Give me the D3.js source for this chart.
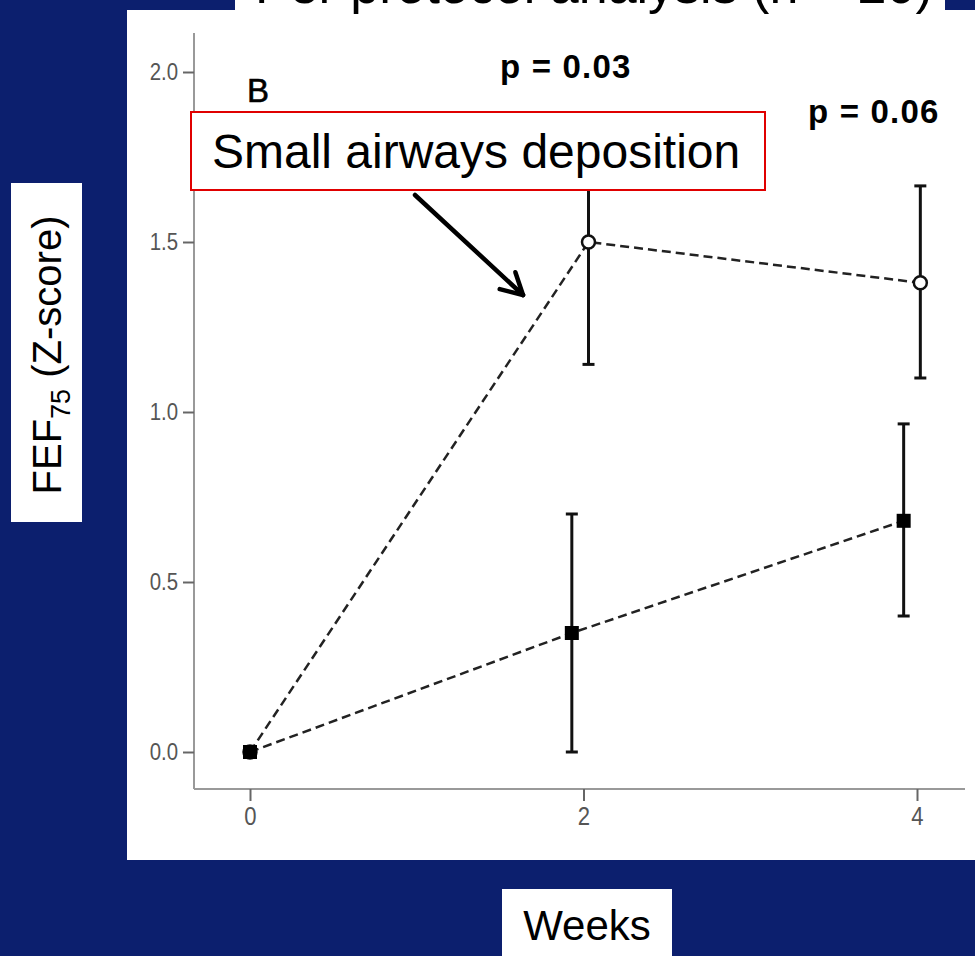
<!DOCTYPE html>
<html>
<head>
<meta charset="utf-8">
<script src="https://cdnjs.cloudflare.com/ajax/libs/d3/7.8.5/d3.min.js"></script>
<style>
  body { margin: 0; background: #0c1f6e; }
  svg { display: block; }
  text { font-family: "Liberation Sans", Arial, sans-serif; }
</style>
</head>
<body>
<div id="chart"></div>
<script>
// tick labels
var weekTicks = [0, 2, 4];
var zTicks = [0, 0.5, 1.0, 1.5, 2.0];

// filled squares
var squareWeeks = [0, 1.93, 3.92];
var squareMean = [0, 0.35, 0.68];
var squareLow = [0, 0.0, 0.40];
var squareHigh = [0, 0.70, 0.965];

// open circles (small airways deposition)
var circleWeeks = [0, 2.03, 4.02];
var circleMean = [0, 1.50, 1.38];
var circleLow = [0, 1.14, 1.10];
var circleHigh = [0, 1.86, 1.665];

var pValues = ["p = 0.03", "p = 0.06"];

var width = 975,
    height = 956;
var navy = '#0c1f6e';

var svg = d3.select('#chart')
  .append('svg')
  .attr('width', width)
  .attr('height', height);

svg.append('rect')
  .attr('width', width)
  .attr('height', height)
  .attr('fill', navy);

// white panel (pasted SPSS chart) + the title box above it
svg.append('rect')
  .attr('x', 127).attr('y', 10)
  .attr('width', width - 127).attr('height', 850)
  .attr('fill', '#fff');
svg.append('rect')
  .attr('x', 235).attr('y', 0)
  .attr('width', 710).attr('height', 12)
  .attr('fill', '#fff');

// title, mostly cut off at the top of the slide
svg.append('text')
  .attr('x', 255)
  .attr('y', 3)
  .attr('font-size', 52)
  .attr('fill', '#000')
  .text('Per protocol analysis (n = 20)');

var x = d3.scaleLinear().domain([0, 4]).range([250, 917]);
var y = d3.scaleLinear().domain([0, 2]).range([752, 72]);

var axisLeft = 194, axisBottom = 789;

// axis lines
svg.append('line')
  .attr('x1', axisLeft).attr('x2', axisLeft)
  .attr('y1', 33).attr('y2', axisBottom)
  .attr('stroke', '#999').attr('stroke-width', 2);
svg.append('line')
  .attr('x1', axisLeft).attr('x2', 965)
  .attr('y1', axisBottom).attr('y2', axisBottom)
  .attr('stroke', '#999').attr('stroke-width', 2);

var yAxis = svg.append('g')
  .attr('transform', 'translate(' + axisLeft + ',0)')
  .call(d3.axisLeft(y).tickValues(zTicks).tickFormat(d3.format('.1f')).tickSize(11).tickPadding(4));
var xAxis = svg.append('g')
  .attr('transform', 'translate(0,' + axisBottom + ')')
  .call(d3.axisBottom(x).tickValues(weekTicks).tickFormat(d3.format('d')).tickSize(12).tickPadding(6));

// SPSS tick labels are a narrow face: squeeze them horizontally
var squeeze = 0.85;
[yAxis, xAxis].forEach(function(g) {
  g.select('.domain').remove();
  g.selectAll('.tick line').attr('stroke', '#666').attr('stroke-width', 2);
  g.selectAll('.tick text')
    .attr('fill', '#555')
    .style('font-family', '"Liberation Sans", Arial, sans-serif')
    .style('font-size', '24px')
    .attr('transform', 'scale(' + squeeze + ',1)');
});
yAxis.selectAll('.tick text').attr('x', -16 / squeeze);
xAxis.selectAll('.tick text').style('font-size', '26px');

function toPoints(weeks, mean, low, high) {
  return weeks.map(function(w, i) {
    return { week: w, mean: mean[i], low: low[i], high: high[i] };
  });
}
var squares = toPoints(squareWeeks, squareMean, squareLow, squareHigh);
var circles = toPoints(circleWeeks, circleMean, circleLow, circleHigh);

var line = d3.line()
  .x(function(d) { return x(d.week); })
  .y(function(d) { return y(d.mean); });

[circles, squares].forEach(function(pts) {
  svg.append('path')
    .datum(pts)
    .attr('d', line)
    .attr('fill', 'none')
    .attr('stroke', '#222')
    .attr('stroke-width', 2.5)
    .attr('stroke-dasharray', '9,5');

  var bars = svg.append('g').selectAll('g')
    .data(pts.filter(function(d) { return d.high > d.low; }))
    .enter().append('g')
    .attr('stroke', '#111')
    .attr('stroke-width', 3);
  bars.append('line')
    .attr('x1', function(d) { return x(d.week); })
    .attr('x2', function(d) { return x(d.week); })
    .attr('y1', function(d) { return y(d.low); })
    .attr('y2', function(d) { return y(d.high); });
  bars.selectAll('.cap')
    .data(function(d) { return [[d.week, d.low], [d.week, d.high]]; })
    .enter().append('line')
    .attr('class', 'cap')
    .attr('x1', function(d) { return x(d[0]) - 6; })
    .attr('x2', function(d) { return x(d[0]) + 6; })
    .attr('y1', function(d) { return y(d[1]); })
    .attr('y2', function(d) { return y(d[1]); });
});

svg.selectAll('circle.pt')
  .data(circles)
  .enter().append('circle')
  .attr('class', 'pt')
  .attr('cx', function(d) { return x(d.week); })
  .attr('cy', function(d) { return y(d.mean); })
  .attr('r', 6.5)
  .attr('fill', '#fff')
  .attr('stroke', '#111')
  .attr('stroke-width', 2.5);

svg.selectAll('rect.pt')
  .data(squares)
  .enter().append('rect')
  .attr('class', 'pt')
  .attr('x', function(d) { return x(d.week) - 7; })
  .attr('y', function(d) { return y(d.mean) - 7; })
  .attr('width', 14)
  .attr('height', 14)
  .attr('fill', '#000');

// panel letter
svg.append('text')
  .attr('x', 247).attr('y', 102)
  .attr('font-size', 33)
  .attr('stroke', '#000')
  .attr('stroke-width', 0.6)
  .text('B');

// p values
svg.selectAll('text.pval')
  .data(pValues)
  .enter().append('text')
  .attr('class', 'pval')
  .attr('x', function(d, i) { return i === 0 ? 500 : 808; })
  .attr('y', function(d, i) { return i === 0 ? 78 : 123; })
  .attr('font-size', 33)
  .attr('letter-spacing', 1.2)
  .attr('font-weight', 'bold')
  .text(function(d) { return d; });

// callout box and arrow
svg.append('rect')
  .attr('x', 191).attr('y', 112)
  .attr('width', 574).attr('height', 78)
  .attr('fill', '#fff')
  .attr('stroke', '#e00000')
  .attr('stroke-width', 2);
svg.append('text')
  .attr('x', 212).attr('y', 168)
  .attr('font-size', 48)
  .text('Small airways deposition');

var a0 = [415, 195], a1 = [523, 295];
var ang = Math.atan2(a1[1] - a0[1], a1[0] - a0[0]);
var arrow = svg.append('g')
  .attr('stroke', '#000')
  .attr('stroke-width', 4.5)
  .attr('stroke-linecap', 'round');
arrow.append('line')
  .attr('x1', a0[0]).attr('y1', a0[1])
  .attr('x2', a1[0]).attr('y2', a1[1]);
[-0.5, 0.5].forEach(function(da) {
  arrow.append('line')
    .attr('x1', a1[0]).attr('y1', a1[1])
    .attr('x2', a1[0] - 24 * Math.cos(ang + da))
    .attr('y2', a1[1] - 24 * Math.sin(ang + da));
});

// axis title boxes
svg.append('rect')
  .attr('x', 11).attr('y', 183)
  .attr('width', 71).attr('height', 339)
  .attr('fill', '#fff');
var yTitle = svg.append('text')
  .attr('transform', 'translate(61,355) rotate(-90)')
  .attr('text-anchor', 'middle')
  .attr('font-size', 40);
yTitle.append('tspan').text('FEF');
yTitle.append('tspan').attr('font-size', 27).attr('dy', 9).text('75');
yTitle.append('tspan').attr('dy', -9).text(' (Z-score)');

svg.append('rect')
  .attr('x', 502).attr('y', 889)
  .attr('width', 170).attr('height', 67)
  .attr('fill', '#fff');
svg.append('text')
  .attr('x', 587).attr('y', 940)
  .attr('text-anchor', 'middle')
  .attr('font-size', 42)
  .text('Weeks');
</script>
</body>
</html>
